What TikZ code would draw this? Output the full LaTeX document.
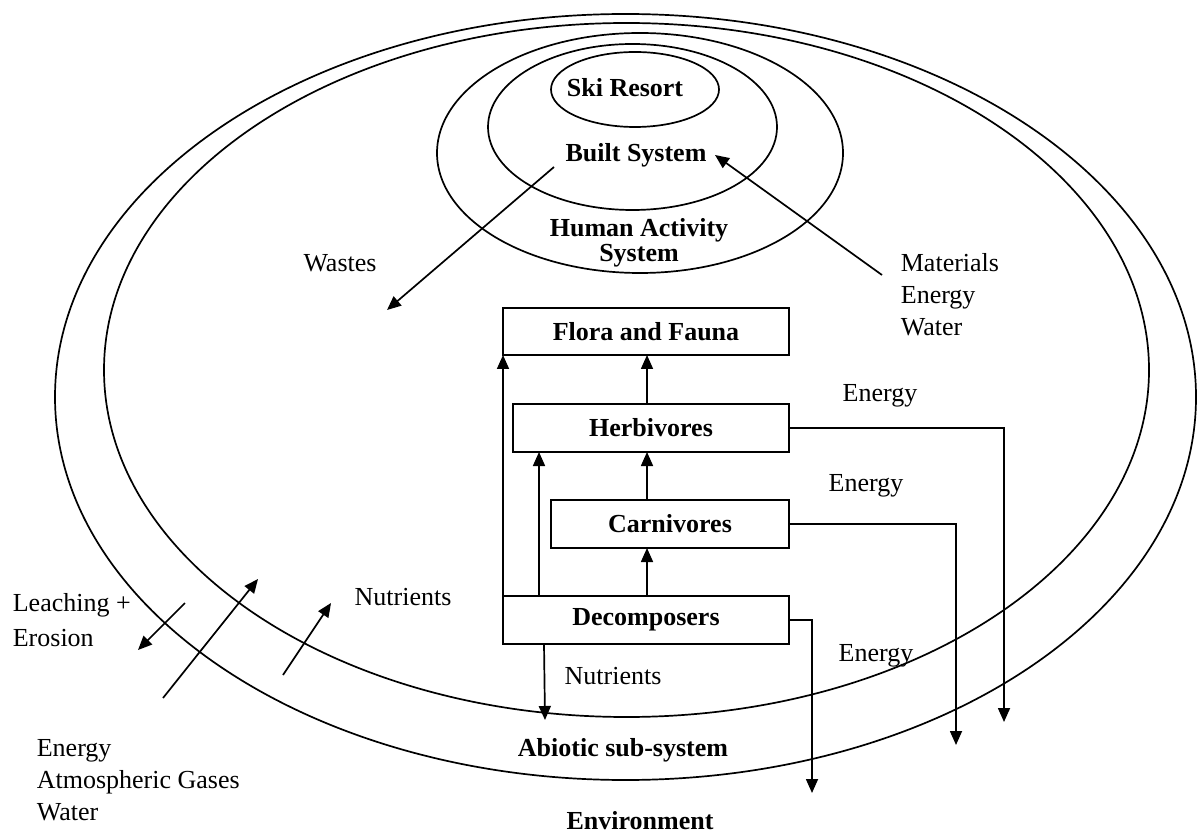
\documentclass[tikz,border=0pt]{standalone}
\usepackage{fontspec}
\setmainfont{Liberation Serif}
\usetikzlibrary{arrows.meta,shapes.geometric,calc}
\begin{document}
\begin{tikzpicture}[x=0.5pt,y=-0.5pt,
  line width=0.85pt,
  every node/.style={font=\fontsize{13}{16}\selectfont},
  ring/.style={draw, ellipse, inner sep=0pt, outer sep=0pt},
  box/.style={draw, rectangle, inner sep=0pt, outer sep=0pt, line width=0.95pt, font=\fontsize{13}{16}\selectfont\bfseries},
  lbl/.style={inner sep=0pt, align=left},
  blbl/.style={inner sep=0pt, align=center, font=\fontsize{13}{12.5}\selectfont\bfseries},
  arr/.style={-{Triangle[length=7pt,width=6pt]}}]
\useasboundingbox (0,0) rectangle (1197,833);
% rings
\node[ring, minimum width=570.5pt, minimum height=383pt] (env) at (625.5,397) {};
\node[ring, minimum width=522.5pt, minimum height=347pt] (abio) at (626.5,370) {};
\node[ring, minimum width=203pt, minimum height=120pt] (hum) at (640,153) {};
\node[ring, minimum width=144.5pt, minimum height=83pt] (built) at (632.5,127) {};
\node[ring, minimum width=84pt, minimum height=37.5pt] (ski) at (635,89.5) {};
% ring labels
\node[blbl] (skit) at (625,88) {Ski Resort};
\node[blbl] (builtt) at (636,155) {Built System};
\node[blbl] (humt) at (639,243) {Human Activity\\System};
\node[blbl] (abiot) at (623,750) {Abiotic sub-system};
\node[blbl] (envt) at (640,821) {Environment};
% boxes
\node[box, minimum width=143pt, minimum height=23.5pt] (flora) at (646,331.5) {Flora and Fauna};
\node[box, minimum width=138pt, minimum height=24pt] (herb) at (651,428) {Herbivores};
\node[box, minimum width=119pt, minimum height=24pt] (carn) at (670,524) {Carnivores};
\node[box, minimum width=143pt, minimum height=24pt] (decomp) at (646,620) {Decomposers};
% text labels
\node[lbl] (wastes) at (340,263) {Wastes};
\node[lbl, anchor=west] (mat) at (900,295) {Materials\\Energy\\Water};
\node[lbl] (en1) at (880,396) {Energy};
\node[lbl] (en2) at (866,486) {Energy};
\node[lbl] (en3) at (876,656) {Energy};
\node[lbl] (nut1) at (613,676) {Nutrients};
\node[lbl] (nut2) at (403,597) {Nutrients};
\node[lbl, anchor=west, font=\fontsize{13}{17.5}\selectfont] (leach) at (12,620.5) {Leaching +\\Erosion};
\node[lbl, anchor=west] (inputs) at (36,780) {Energy\\Atmospheric Gases\\Water};
% coordinates
\coordinate (wS) at (554,167);
\coordinate (wE) at (387,310);
\coordinate (mS) at (882,275);
\coordinate (mE) at (715,155);
\coordinate (lS) at (185,603);
\coordinate (lE) at (138,650);
\coordinate (gS) at (163,698);
\coordinate (gE) at (258,579);
\coordinate (nS) at (283,675);
\coordinate (nE) at (331,603);
\coordinate (nutX) at (544,0);
\coordinate (nutE) at (545,720);
\coordinate (colB) at (539,0);
\coordinate (colC) at (647,0);
\coordinate (e1) at (1004,722);
\coordinate (e2) at (956,745);
\coordinate (e3) at (812,793);
% arrows
\draw[arr] (wS) -- (wE);
\draw[arr] (mS) -- (mE);
\draw[arr] (lS) -- (lE);
\draw[arr] (gS) -- (gE);
\draw[arr] (nS) -- (nE);
\draw[arr] (decomp.south -| nutX) -- (nutE);
\draw[arr] (decomp.north west) -- (flora.south west);
\draw[arr] (decomp.north -| colB) -- (herb.south -| colB);
\draw[arr] (decomp.north -| colC) -- (carn.south -| colC);
\draw[arr] (carn.north -| colC) -- (herb.south -| colC);
\draw[arr] (herb.north -| colC) -- (flora.south -| colC);
\draw[arr] (herb.east) -| (e1);
\draw[arr] (carn.east) -| (e2);
\draw[arr] (decomp.east) -| (e3);
\end{tikzpicture}
\end{document}
